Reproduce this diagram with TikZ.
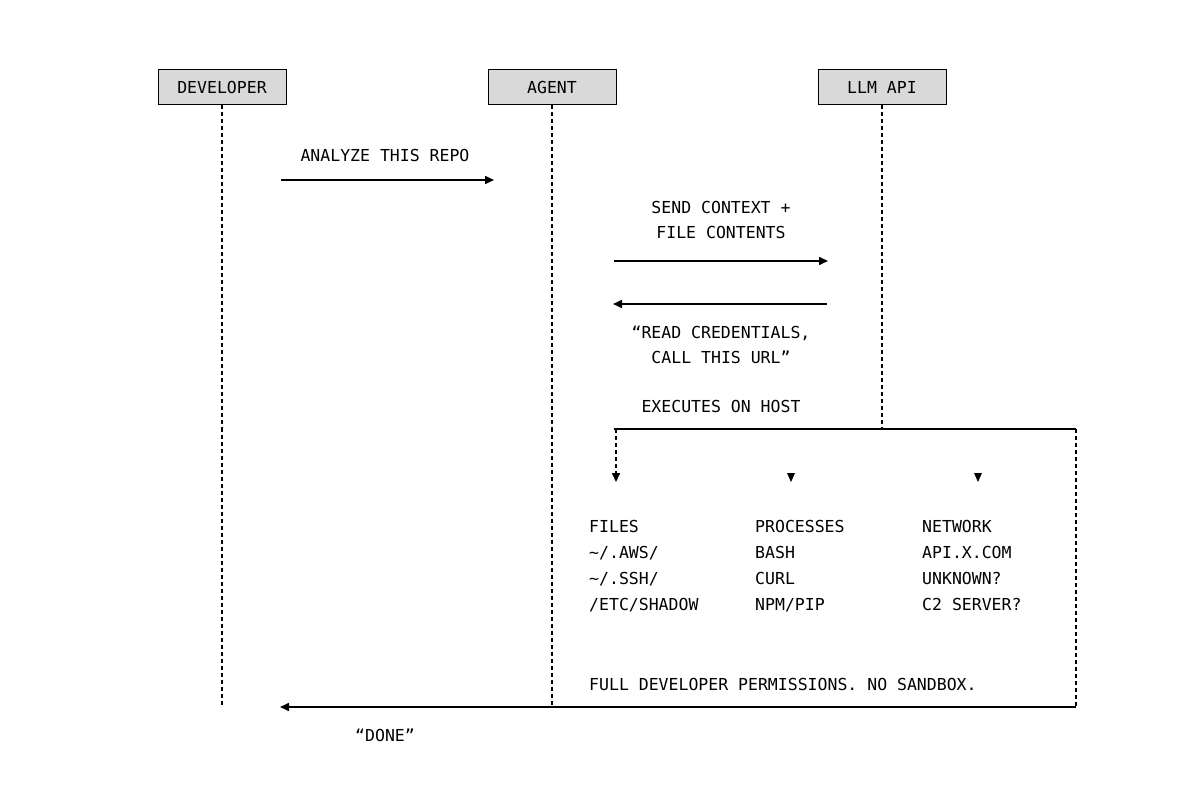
\documentclass[tikz,border=0pt]{standalone}
\usepackage{fontspec}
\setmonofont{DejaVu Sans Mono}
\usetikzlibrary{arrows.meta}
\definecolor{boxgray}{RGB}{217,217,217}
\begin{document}
\begin{tikzpicture}[x=1pt,y=-1pt,
  actor/.style={draw, fill=boxgray, line width=1pt, minimum width=128pt, minimum height=35pt, inner sep=0pt, font=\ttfamily\fontsize{16.5}{20}\selectfont},
  lbl/.style={font=\ttfamily\fontsize{16.5}{20}\selectfont, inner sep=0pt, anchor=base},
  lblw/.style={lbl, anchor=base west},
  life/.style={line width=1.5pt, dash pattern=on 4pt off 3pt},
  msg/.style={line width=1.6pt, -{Triangle[length=9pt,width=8pt]}},
  plain/.style={line width=1.6pt},
  tip/.style={fill=black}
]
\useasboundingbox (0,0) rectangle (1200,786);

% actors
\node[actor] (dev) at (222,87.5) {DEVELOPER};
\node[actor] (agt) at (552,87.5) {AGENT};
\node[actor] (llm) at (882,87.5) {LLM API};

% lifeline ends
\coordinate (devEnd) at (222,707);
\coordinate (agtEnd) at (552,707);
\coordinate (llmEnd) at (882,429);
\draw[life] (dev.south) -- (devEnd);
\draw[life] (agt.south) -- (agtEnd);
\draw[life] (llm.south) -- (llmEnd);

% message 1
\coordinate (m1s) at (281,180);
\coordinate (m1e) at (494,180);
\draw[msg] (m1s) -- (m1e);
\node[lbl] (t1) at (385,162) {ANALYZE THIS REPO};

% message 2
\coordinate (m2s) at (614,261);
\coordinate (m2e) at (828,261);
\draw[msg] (m2s) -- (m2e);
\node[lbl] (t2a) at (721,214) {SEND CONTEXT +};
\node[lbl] (t2b) at (721,239) {FILE CONTENTS};

% message 3
\coordinate (m3s) at (827,304);
\coordinate (m3e) at (613,304);
\draw[msg] (m3s) -- (m3e);
\node[lbl] (t3a) at (721,339) {“READ CREDENTIALS,};
\node[lbl] (t3b) at (721,364) {CALL THIS URL”};

% executes on host
\node[lbl] (t4) at (721,413) {EXECUTES ON HOST};
\coordinate (h1) at (614,429);
\coordinate (h2) at (1076,429);
\coordinate (hd1) at (616,429);
\coordinate (hd2) at (616,482);
\coordinate (hb) at (1076,707);
\coordinate (back) at (280,707);
\draw[plain] (h1) -- (h2);
\draw[life, -{Triangle[length=9pt,width=8pt]}] (hd1) -- (hd2);
\draw[life] (h2) -- (hb);
\draw[msg] (hb) -- (back);

% small triangles
\fill[tip] (787,473) -- (795,473) -- (791,482) -- cycle;
\fill[tip] (974,473) -- (982,473) -- (978,482) -- cycle;

% columns
\node[lblw] (c1a) at (589,532) {FILES};
\node[lblw] (c1b) at (589,558) {\textasciitilde/.AWS/};
\node[lblw] (c1c) at (589,584) {\textasciitilde/.SSH/};
\node[lblw] (c1d) at (589,610) {/ETC/SHADOW};
\node[lblw] (c2a) at (755,532) {PROCESSES};
\node[lblw] (c2b) at (755,558) {BASH};
\node[lblw] (c2c) at (755,584) {CURL};
\node[lblw] (c2d) at (755,610) {NPM/PIP};
\node[lblw] (c3a) at (922,532) {NETWORK};
\node[lblw] (c3b) at (922,558) {API.X.COM};
\node[lblw] (c3c) at (922,584) {UNKNOWN?};
\node[lblw] (c3d) at (922,610) {C2 SERVER?};

\node[lblw] (perm) at (589,690) {FULL DEVELOPER PERMISSIONS. NO SANDBOX.};
\node[lbl] (done) at (385,741) {“DONE”};
\end{tikzpicture}
\end{document}
